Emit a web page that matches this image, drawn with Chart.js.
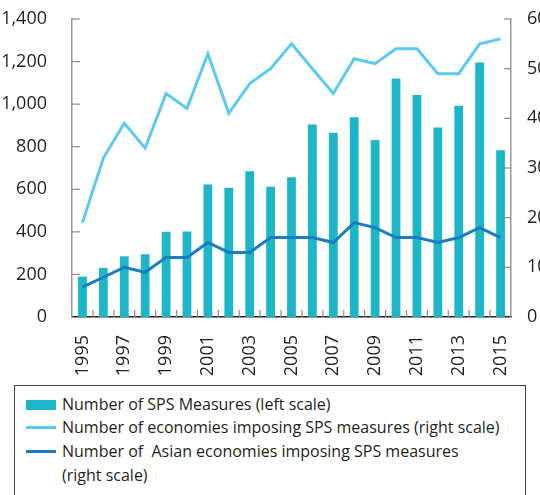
<!DOCTYPE html>
<html>
<head>
<meta charset="utf-8">
<script src="https://cdn.jsdelivr.net/npm/chart.js@4"></script>
<style>
  html,body{margin:0;padding:0;background:#fff;}
  #wrap{position:relative;width:540px;height:495px;overflow:hidden;font-family:"Open Sans",sans-serif;}
  #c{position:absolute;left:0;top:0;}
  #legend{position:absolute;left:14px;top:385px;width:512px;height:130px;border:1px solid #444;box-sizing:border-box;color:#231f20;font-size:16px;}
  .row{position:absolute;left:47px;white-space:pre;line-height:24px;}
  .sw{position:absolute;left:11px;width:30px;}
</style>
</head>
<body>
<div id="wrap">
<canvas id="c" width="540" height="385"></canvas>
<div id="legend"></div>
</div>
<script>
const years = ["1995","1996","1997","1998","1999","2000","2001","2002","2003","2004","2005","2006","2007","2008","2009","2010","2011","2012","2013","2014","2015"];
const spsMeasures = [190,230,285,295,400,402,622,607,685,612,657,904,866,938,832,1121,1043,890,993,1196,783];
const economiesImposing = [19,32,39,34,45,42,53,41,47,50,55,50,45,52,51,54,54,49,49,55,56];
const asianEconomiesImposing = [6,8,10,9,12,12,15,13,13,16,16,16,15,19,18,16,16,15,16,18,16];
const leftTicks = [0,200,400,600,800,1000,1200,1400];
const rightTicks = [0,10,20,30,40,50,60];
const seriesNames = ["Number of SPS Measures (left scale)","Number of economies imposing SPS measures (right scale)","Number of  Asian economies imposing SPS measures\n(right scale)"];
const colors = {bar:"#1db5c8", light:"#5bc9f0", dark:"#1b7cbf"};

const innerTicks = {
  id:'innerTicks',
  afterDraw(chart){
    const ctx = chart.ctx;
    const {x, y, y2} = chart.scales;
    ctx.save();
    ctx.lineWidth = 1.2;
    ctx.strokeStyle = '#8a8a8a';
    for(let i=0;i<years.length-1;i++){
      const px = (x.getPixelForValue(i)+x.getPixelForValue(i+1))/2;
      ctx.beginPath(); ctx.moveTo(px, x.top); ctx.lineTo(px, x.top-7); ctx.stroke();
    }
    leftTicks.forEach(v=>{ if(v===0) return; const py=y.getPixelForValue(v); ctx.beginPath(); ctx.moveTo(y.right,py); ctx.lineTo(y.right+8,py); ctx.stroke();});
    rightTicks.forEach(v=>{ if(v===0) return; const py=y2.getPixelForValue(v); ctx.beginPath(); ctx.moveTo(y2.left,py); ctx.lineTo(y2.left-7,py); ctx.stroke();});
    ctx.restore();
  }
};
function zeroPad(s){s.paddingTop=0;s.paddingBottom=0;s.paddingLeft=0;s.paddingRight=0;}

const tickFont = {family:"'Open Sans', sans-serif", size:18};
const chart = new Chart(document.getElementById('c'), {
  type:'bar',
  data:{
    labels:years,
    datasets:[
      {type:'line', label:seriesNames[2], data:asianEconomiesImposing, yAxisID:'y2', borderColor:colors.dark, borderWidth:3, pointRadius:0, tension:0, order:1},
      {type:'line', label:seriesNames[1], data:economiesImposing, yAxisID:'y2', borderColor:colors.light, borderWidth:3, pointRadius:0, tension:0, order:2},
      {type:'bar', label:seriesNames[0], data:spsMeasures, yAxisID:'y', backgroundColor:colors.bar, barPercentage:0.42, categoryPercentage:1, order:3}
    ]
  },
  options:{
    responsive:false, animation:false,
    layout:{padding:{top:19,left:0,right:0,bottom:0}},
    plugins:{legend:{display:false}, tooltip:{enabled:false}},
    scales:{
      x:{
        offset:true,
        grid:{display:false},
        border:{display:true,color:'#222',width:1.5},
        ticks:{autoSkip:false,maxRotation:90,minRotation:90,padding:10,color:'#231f20',font:{family:"'Open Sans', sans-serif",size:18},
          callback:function(v,i){return i%2===0?years[i]:'';}},
        afterFit(s){s.height=68;zeroPad(s);}
      },
      y:{
        position:'left', min:0, max:1400,
        grid:{display:false},
        border:{display:true,color:'#999',width:1.5},
        afterBuildTicks(s){s.ticks=leftTicks.map(v=>({value:v}));},
        ticks:{padding:17,color:'#231f20',font:tickFont,callback:v=>v.toLocaleString('en-US')},
        afterFit(s){s.width=72;zeroPad(s);}
      },
      y2:{
        position:'right', min:0, max:60,
        grid:{display:false},
        border:{display:true,color:'#999',width:1.5},
        afterBuildTicks(s){s.ticks=rightTicks.map(v=>({value:v}));},
        ticks:{padding:8,color:'#231f20',font:tickFont},
        afterFit(s){s.width=29;zeroPad(s);}
      }
    }
  },
  plugins:[innerTicks]
});

const lg = document.getElementById('legend');
const rows = [
  {top:6, sw:{top:14,height:10,color:colors.bar}, text:seriesNames[0]},
  {top:29, sw:{top:40,height:3,color:colors.light}, text:seriesNames[1]},
  {top:53, sw:{top:64,height:3,color:colors.dark}, text:seriesNames[2]}
];
rows.forEach(r=>{
  const s=document.createElement('div'); s.className='sw';
  s.style.top=r.sw.top+'px'; s.style.height=r.sw.height+'px'; s.style.background=r.sw.color; lg.appendChild(s);
  const t=document.createElement('div'); t.className='row'; t.style.top=r.top+'px'; t.textContent=r.text; lg.appendChild(t);
});
</script>
</body>
</html>
